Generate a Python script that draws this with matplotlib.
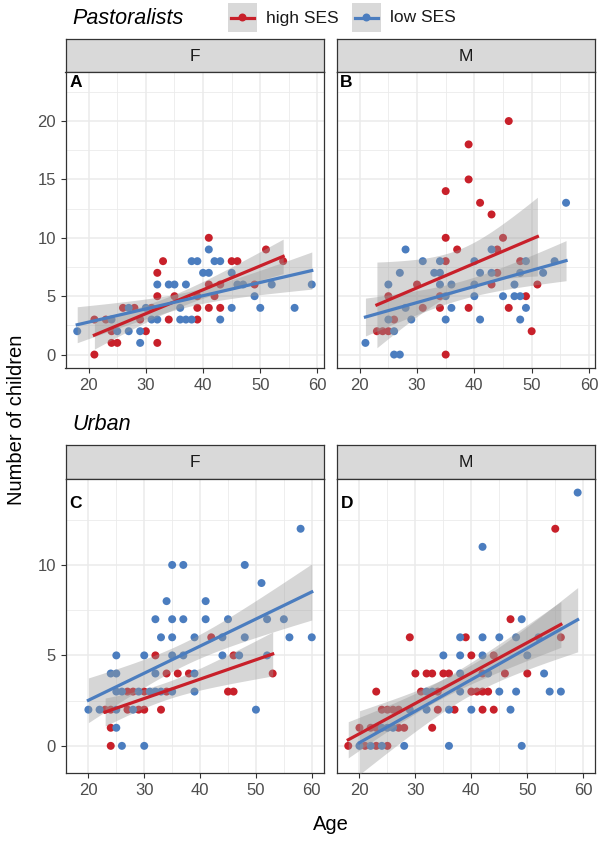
import numpy as np
import matplotlib.pyplot as plt
from matplotlib.ticker import FixedLocator

plt.rcParams['font.family'] = ['Liberation Sans', 'DejaVu Sans']

# ---- data (age, number of children) ----
# Pastoralists, F
past_f_high_age = [41, 51, 33, 45, 46, 54, 32, 41, 43, 49, 32, 35, 39, 42, 26, 28, 31, 39, 41, 43,
                   21, 23, 29, 34, 39, 24, 30, 24, 25, 32, 21]
past_f_high_n = [10, 9, 8, 8, 8, 8, 7, 6, 6, 6, 5, 5, 5, 5, 4, 4, 4, 4, 4, 4,
                 3, 3, 3, 3, 3, 2, 2, 1, 1, 1, 0]
past_f_low_age = [41, 38, 39, 42, 43, 40, 41, 45, 32, 34, 35, 37, 46, 47, 52, 59, 49, 27, 30, 36,
                  45, 50, 56, 24, 31, 32, 36, 37, 38, 43, 18, 25, 27, 29, 29]
past_f_low_n = [9, 8, 8, 8, 8, 7, 7, 7, 6, 6, 6, 6, 6, 6, 6, 6, 5, 4, 4, 4,
                4, 4, 4, 3, 3, 3, 3, 3, 3, 3, 2, 2, 2, 2, 1]
# Pastoralists, M
past_m_high_age = [46, 39, 39, 35, 41, 43, 35, 45, 37, 44, 35, 48, 44, 30, 43, 51, 25, 34, 49, 31,
                   34, 39, 46, 26, 23, 24, 25, 50, 35]
past_m_high_n = [20, 18, 15, 14, 13, 12, 10, 10, 9, 9, 8, 8, 7, 6, 6, 6, 5, 5, 5, 4,
                 4, 4, 4, 3, 2, 2, 2, 2, 0]
past_m_low_age = [56, 28, 43, 31, 34, 40, 49, 54, 27, 33, 34, 41, 43, 48, 52, 25, 34, 36, 40, 47,
                  35, 40, 45, 47, 48, 28, 36, 49, 25, 29, 35, 41, 48, 26, 21, 26, 27]
past_m_low_n = [13, 9, 9, 8, 8, 8, 8, 8, 7, 7, 7, 7, 7, 7, 7, 6, 6, 6, 6, 6,
                5, 5, 5, 5, 5, 4, 4, 4, 3, 3, 3, 3, 3, 2, 1, 0, 0]
# Urban, F
urb_f_high_age = [42, 32, 46, 34, 36, 38, 53, 27, 28, 30, 34, 45, 46, 23, 24, 27, 29, 30, 33, 24, 24]
urb_f_high_n = [6, 5, 5, 4, 4, 4, 4, 3, 3, 3, 3, 3, 3, 2, 2, 2, 2, 2, 2, 1, 0]
urb_f_low_age = [58, 35, 37, 48, 51, 34, 41, 32, 35, 37, 41, 45, 52, 55, 33, 35, 39, 44, 48, 56,
                 60, 25, 30, 35, 37, 44, 47, 52, 24, 25, 32, 39, 25, 26, 29, 31, 32, 33, 35, 39,
                 20, 22, 25, 28, 50, 25, 26, 30]
urb_f_low_n = [12, 10, 10, 10, 9, 8, 8, 7, 7, 7, 7, 7, 7, 7, 6, 6, 6, 6, 6, 6,
               6, 5, 5, 5, 5, 5, 5, 5, 4, 4, 4, 4, 3, 3, 3, 3, 3, 3, 3, 3,
               2, 2, 2, 2, 2, 1, 0, 0]
# Urban, M
urb_m_high_age = [55, 47, 29, 39, 56, 40, 44, 30, 32, 33, 35, 36, 42, 46, 50, 23, 31, 34, 40, 41,
                  42, 43, 24, 25, 26, 27, 34, 37, 42, 44, 20, 22, 23, 27, 28, 33, 18, 21, 23, 25]
urb_m_high_n = [12, 7, 6, 6, 6, 5, 5, 4, 4, 4, 4, 4, 4, 4, 4, 3, 3, 3, 3, 3,
                3, 3, 2, 2, 2, 2, 2, 2, 2, 2, 1, 1, 1, 1, 1, 1, 0, 0, 0, 0]
urb_m_low_age = [59, 42, 49, 38, 42, 45, 48, 52, 35, 38, 42, 50, 38, 43, 53, 32, 33, 38, 45, 48,
                 54, 56, 29, 32, 36, 40, 47, 24, 25, 26, 20, 22, 24, 28, 36, 49]
urb_m_low_n = [14, 11, 7, 6, 6, 6, 6, 6, 5, 5, 5, 5, 4, 4, 4, 3, 3, 3, 3, 3,
               3, 3, 2, 2, 2, 2, 2, 1, 1, 1, 0, 0, 0, 0, 0, 0]

RED = '#C8202A'
BLUE = '#4B7DBF'
W, H = 600, 842

fig = plt.figure(figsize=(6, 8.42), dpi=100)


def box(x0, y0, x1, y1):
    # pixel box -> figure fraction
    return [x0 / W, 1 - y1 / H, (x1 - x0) / W, (y1 - y0) / H]


def lm_band(x, y, t=1.99):
    x = np.asarray(x, float)
    y = np.asarray(y, float)
    b, a = np.polyfit(x, y, 1)
    n = len(x)
    s = np.sqrt(np.sum((y - (a + b * x)) ** 2) / (n - 2))
    sxx = np.sum((x - x.mean()) ** 2)
    xs = np.linspace(x.min(), x.max(), 80)
    fit = a + b * xs
    se = s * np.sqrt(1 / n + (xs - x.mean()) ** 2 / sxx)
    return xs, fit, fit - t * se, fit + t * se


def strip(rect, text):
    sa = fig.add_axes(box(*rect))
    sa.set_facecolor('#D9D9D9')
    sa.set_xticks([])
    sa.set_yticks([])
    for sp in sa.spines.values():
        sp.set_color('#333333')
        sp.set_linewidth(0.9)
    sa.text(0.5, 0.48, text, ha='center', va='center', size=12.5, color='#1A1A1A',
            transform=sa.transAxes)


def panel(rect, label, high, low, xlim, ylim, yticks, yminor, label_y, show_y):
    ax = fig.add_axes(box(*rect))
    ax.set_xlim(*xlim)
    ax.set_ylim(*ylim)
    ax.set_xticks([20, 30, 40, 50, 60])
    ax.xaxis.set_minor_locator(FixedLocator([25, 35, 45, 55]))
    ax.set_yticks(yticks)
    ax.yaxis.set_minor_locator(FixedLocator(yminor))
    ax.grid(which='major', color='#EBEBEB', linewidth=1.1, zorder=0)
    ax.grid(which='minor', color='#EBEBEB', linewidth=0.6, zorder=0)
    ax.set_axisbelow(True)
    ax.tick_params(which='major', length=3.5, width=0.8, color='#333333',
                   labelcolor='#4D4D4D', labelsize=12)
    ax.tick_params(which='minor', length=0)
    if not show_y:
        ax.tick_params(axis='y', which='major', length=0, labelleft=False)
    for sp in ax.spines.values():
        sp.set_color('#333333')
        sp.set_linewidth(0.9)

    for (ages, kids), col in ((high, RED), (low, BLUE)):
        ax.scatter(ages, kids, s=33, color=col, edgecolors='none', zorder=2)
    for (ages, kids), col in ((high, RED), (low, BLUE)):
        xs, fit, lo, hi = lm_band(ages, kids)
        ax.fill_between(xs, lo, hi, color='#999999', alpha=0.4, linewidth=0, zorder=3)
        ax.plot(xs, fit, color=col, linewidth=2.3, zorder=4)

    ax.text(16.6, label_y, label, fontweight='bold', size=12.5, ha='left', va='center',
            color='black', zorder=5)
    return ax


top_ylim = (-1.15, 24.2)
bot_ylim = (-1.5, 14.75)
top_xlim = (15.95, 61.05)
bot_xlim = (15.9, 62.1)

strip((65.5, 39, 323.5, 72), 'F')
strip((336.5, 39, 595, 72), 'M')
panel((65.5, 72, 323.5, 368), 'A', (past_f_high_age, past_f_high_n), (past_f_low_age, past_f_low_n),
      top_xlim, top_ylim, [0, 5, 10, 15, 20], [2.5, 7.5, 12.5, 17.5, 22.5], 23.3, True)
panel((336.5, 72, 595, 368), 'B', (past_m_high_age, past_m_high_n), (past_m_low_age, past_m_low_n),
      top_xlim, top_ylim, [0, 5, 10, 15, 20], [2.5, 7.5, 12.5, 17.5, 22.5], 23.3, False)

strip((65.5, 445, 323.5, 479), 'F')
strip((336.5, 445, 595, 479), 'M')
panel((65.5, 479, 323.5, 773), 'C', (urb_f_high_age, urb_f_high_n), (urb_f_low_age, urb_f_low_n),
      bot_xlim, bot_ylim, [0, 5, 10], [2.5, 7.5, 12.5], 13.4, True)
panel((336.5, 479, 595, 773), 'D', (urb_m_high_age, urb_m_high_n), (urb_m_low_age, urb_m_low_n),
      bot_xlim, bot_ylim, [0, 5, 10], [2.5, 7.5, 12.5], 13.4, False)

# group titles and legend
fig.text(72 / W, 1 - 18 / H, 'Pastoralists', style='italic', size=15.5, ha='left', va='center')
fig.text(72 / W, 1 - 424 / H, 'Urban', style='italic', size=15.5, ha='left', va='center')

for x0, col, name in ((228, RED, 'high SES'), (352, BLUE, 'low SES')):
    ka = fig.add_axes(box(x0, 3, x0 + 29, 32))
    ka.set_xlim(0, 1)
    ka.set_ylim(0, 1)
    ka.axis('off')
    ka.add_patch(plt.Rectangle((0, 0), 1, 1, color='#D9D9D9'))
    ka.plot([0.12, 0.88], [0.5, 0.5], color=col, linewidth=2.3)
    ka.scatter([0.5], [0.5], s=33, color=col, edgecolors='none')
    fig.text((x0 + 38) / W, 1 - 18 / H, name, size=12.5, ha='left', va='center', color='#1A1A1A')

fig.text(17 / W, 1 - 420 / H, 'Number of children', rotation=90, size=14.5, ha='center', va='center')
fig.text(331 / W, 1 - 824 / H, 'Age', size=14.5, ha='center', va='center')

fig.savefig('out.png', dpi=100)
